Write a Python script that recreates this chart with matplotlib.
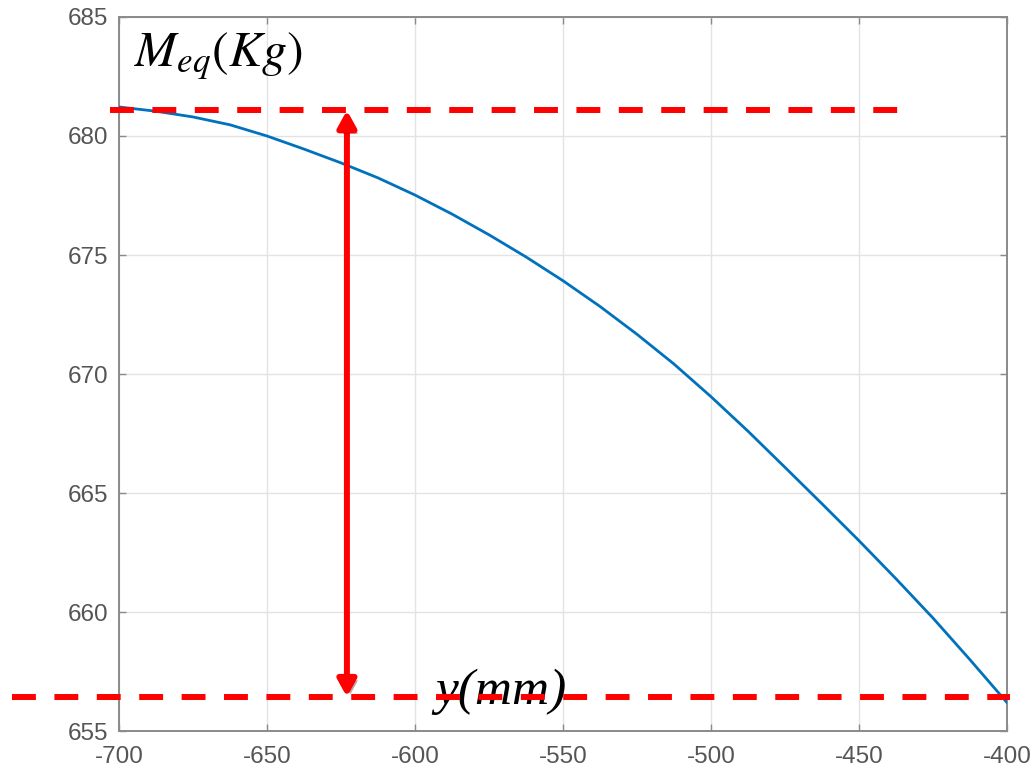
import matplotlib
matplotlib.use("Agg")
import matplotlib.pyplot as plt
import matplotlib.patheffects as pe
from matplotlib.patches import FancyArrowPatch

# curve, every 12.5 mm
y_mm = [-700, -687.5, -675, -662.5, -650, -637.5, -625, -612.5, -600, -587.5, -575, -562.5,
        -550, -537.5, -525, -512.5, -500, -487.5, -475, -462.5, -450, -437.5, -425, -412.5, -400]
m_eq = [681.22, 681.04, 680.8, 680.47, 680.0, 679.45, 678.87, 678.24, 677.52, 676.72, 675.85, 674.92,
        673.92, 672.84, 671.67, 670.42, 669.05, 667.6, 666.08, 664.55, 663.0, 661.4, 659.75, 658.0, 656.2]

x_ticks = [-700, -650, -600, -550, -500, -450, -400]
y_ticks = [655, 660, 665, 670, 675, 680, 685]

# range markers
m_max = 681.08
m_min = 656.43
arrow_x = -623

plt.rcParams['mathtext.fontset'] = 'stix'
plt.rcParams['font.family'] = ['Liberation Sans', 'DejaVu Sans']
plt.rcParams['axes.unicode_minus'] = False

fig = plt.figure(figsize=(10.36, 7.69), dpi=100)
ax = fig.add_axes([0.1149, 0.0494, 0.857, 0.9285])

ax.plot(y_mm, m_eq, color='#0072BD', lw=2.0, zorder=3)

ax.set_xlim(-700, -400)
ax.set_ylim(655, 685)
ax.set_xticks(x_ticks)
ax.set_yticks(y_ticks)
ax.grid(True, color='#e3e3e3', lw=1)
ax.set_axisbelow(True)
for s in ax.spines.values():
    s.set_color('#8a8a8a')
    s.set_linewidth(1.4)
ax.tick_params(direction='in', length=5, width=1, top=True, right=True,
               colors='#8a8a8a', labelcolor='#555555', labelsize=17.5)
ax.tick_params(axis='x', pad=11)
ax.tick_params(axis='y', pad=8)

# dashed red levels, running past the axes
red_dash = dict(color='#ff0000', lw=4.3, dashes=(4, 3.1), clip_on=False, zorder=5,
                solid_capstyle='butt', dash_capstyle='butt')
ax.plot([-703, -431], [m_max, m_max], **red_dash)
ax.plot([-736, -399], [m_min, m_min], **red_dash)

arr = FancyArrowPatch((arrow_x, m_min), (arrow_x, m_max),
                      arrowstyle='<|-|>,head_length=1.0,head_width=0.55',
                      mutation_scale=10, color='#ff0000', lw=4.3,
                      shrinkA=0, shrinkB=0, capstyle='butt', zorder=6)
arr.set_path_effects([pe.SimplePatchShadow(offset=(2.5, -2.5), alpha=0.35), pe.Normal()])
ax.add_patch(arr)

ax.text(-695, 683.35, r'$M_{eq}(Kg)$', fontsize=36, va='center', ha='left', zorder=4)
ax.text(-571, 656.65, 'y(mm)', family='Liberation Serif', style='italic',
        fontsize=37, va='center', ha='center', zorder=4)

fig.savefig('out.png', dpi=100)
